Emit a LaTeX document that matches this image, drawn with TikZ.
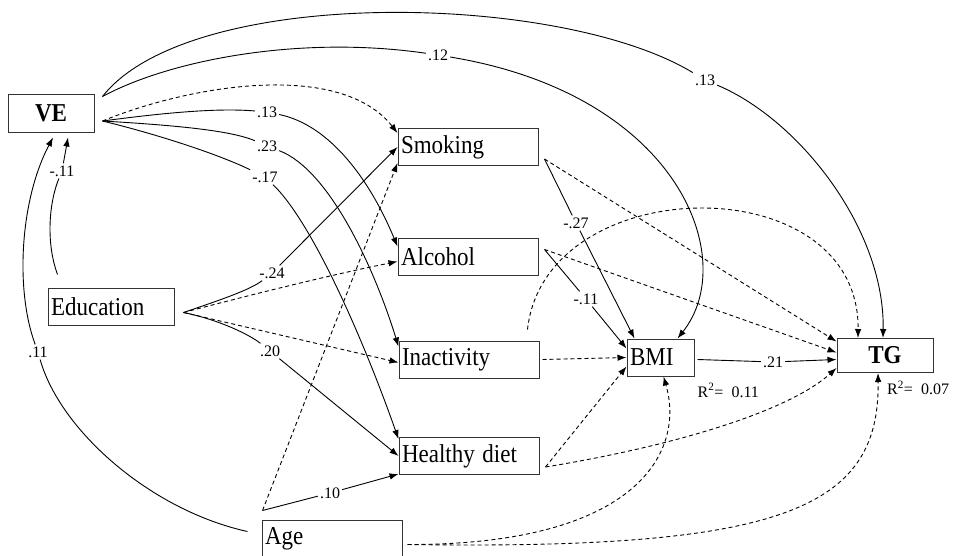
\documentclass[tikz,border=0pt]{standalone}
\usepackage{graphicx}
\usepackage{fontspec}
\setmainfont{Liberation Serif}
\usetikzlibrary{calc,arrows.meta}
\newcommand{\tallbox}[1]{\scalebox{1}[1.12]{#1}}

\begin{document}
\begin{tikzpicture}[x=1pt,y=-1pt,
    var/.style={draw=black!80,line width=1pt,inner sep=3pt,minimum height=37pt,
      text width=#1,align=left,font=\fontsize{23}{26}\selectfont},
    lat/.style={draw=black!80,line width=1pt,inner sep=0pt,minimum height=#1,
      font=\fontsize{23}{26}\selectfont\bfseries},
    coef/.style={inner sep=2pt,font=\fontsize{16}{18}\selectfont},
    arr/.style={line width=0.9pt,-{Latex[length=9pt,width=6.5pt]}},
    dsh/.style={arr,dash pattern=on 4pt off 3pt}]
      \useasboundingbox (0,0) rectangle (961,555);
      % boxes
      \node[lat=38pt,minimum width=86pt] (VE) at (51,113) {\tallbox{VE}};
      \node[var=120pt] (Education) at (111,306.5) {\tallbox{Education}};
      \node[var=134pt] (Smoking) at (468,147) {\tallbox{Smoking}};
      \node[var=134pt] (Alcohol) at (468,256.5) {\tallbox{Alcohol}};
      \node[var=134pt] (Inactivity) at (469,359.5) {\tallbox{Inactivity}};
      \node[var=134pt] (Healthy) at (469,456) {\tallbox{Healthy diet}};
      \node[var=134pt,minimum height=38pt] (Age) at (332,539) {\tallbox{Age}};
      \node[var=61pt] (BMI) at (660.5,357.5) {\tallbox{BMI}};
      \node[lat=34pt,minimum width=96pt] (TG) at (885,355.5) {\tallbox{TG}};
      \node[coef,anchor=west] (r2bmi) at ($(BMI.south east)+(1,14)$) {R\textsuperscript{2}=\ \ 0.11};
      \node[coef,anchor=west] (r2tg) at ($(TG.south)+(0,15)$) {R\textsuperscript{2}=\ \ 0.07};
      % coefficients
      \node[coef] (l13t) at (705,80) {.13};
      \node[coef] (l12) at (438,55) {.12};
      \node[coef] (l13) at (267,112) {.13};
      \node[coef] (l23) at (267,146) {.23};
      \node[coef] (l17) at (265,177) {-.17};
      \node[coef] (lm11) at (62,171) {-.11};
      \node[coef] (l11) at (38,352) {.11};
      \node[coef] (l24) at (272,273) {-.24};
      \node[coef] (l20) at (270,351) {.20};
      \node[coef] (l10) at (330,493) {.10};
      \node[coef] (l27) at (576,223) {-.27};
      \node[coef] (lb11) at (586,299) {-.11};
      \node[coef] (l21) at (773,362) {.21};
      % end points
      \coordinate (vef) at ($(VE.east)+(8,8)$);
      \coordinate (vet) at ($(VE.north east)+(8,3)$);
      \coordinate (edf) at ($(Education.east)+(9,6)$);
      \coordinate (edt) at ($(Education.north west)+(10,-13)$);
      \coordinate (agt) at ($(Age.north west)+(1,-9)$);
      \coordinate (agl) at ($(Age.north west)+(-14,12)$);
      \coordinate (agr) at ($(Age.north east)+(5,25)$);
      \coordinate (smo) at ($(Smoking.east)+(6,12)$);
      \coordinate (alo) at ($(Alcohol.east)+(6,-7)$);
      \coordinate (ino) at ($(Inactivity.north east)+(-12,-11)$);
      \coordinate (hdo) at ($(Healthy.east)+(6,11)$);
      % VE
      \draw[arr] (vet) .. controls (190,-15) and (560,-8) .. (l13t) .. controls (800,120) and (885,230) .. ($(TG.north)+(-2,0)$);
      \draw[arr] (vet) .. controls (170,60) and (300,35) .. (l12) .. controls (680,95) and (740,260) .. ($(BMI.north east)+(-17,0)$);
      \draw[dsh] (vef) .. controls (190,85) and (340,60) .. ($(Smoking.north west)+(0,5)$);
      \draw[arr] (vef) .. controls (170,112) and (220,108) .. (l13) .. controls (330,125) and (370,180) .. ($(Alcohol.north west)+(0,9)$);
      \draw[arr] (vef) .. controls (170,125) and (230,130) .. (l23) .. controls (330,170) and (375,270) .. ($(Inactivity.north west)+(0,6)$);
      \draw[arr] (vef) .. controls (160,135) and (220,155) .. (l17) .. controls (310,220) and (360,330) .. ($(Healthy.north west)+(0,2)$);
      % Education
      \draw[arr] (edt) .. controls (45,240) and (50,200) .. (lm11) -- ($(VE.south)+(17,5)$);
      \draw[arr] (edf) .. controls (220,300) and (250,290) .. (l24) -- (Smoking.west);
      \draw[dsh] (edf) .. controls (250,295) and (330,275) .. ($(Alcohol.west)+(0,5)$);
      \draw[dsh] (edf) -- ($(Inactivity.west)+(0,3)$);
      \draw[arr] (edf) .. controls (220,320) and (250,335) .. (l20) -- (Healthy.west);
      % Age
      \draw[arr] (agl) .. controls (150,510) and (60,430) .. (l11) .. controls (15,290) and (20,200) .. ($(VE.south)+(2,5)$);
      \draw[dsh] (agt) -- ($(Smoking.south west)+(0,-3)$);
      \draw[arr] (agt) -- (l10) -- ($(Healthy.south west)+(0,-1)$);
      \draw[dsh] (agr) .. controls (640,545) and (685,450) .. ($(BMI.south)+(3,0)$);
      \draw[dsh] (agr) .. controls (780,550) and (880,510) .. ($(TG.south)+(-7,0)$);
      % health behaviours
      \draw[arr] (smo) -- (l27) -- ($(BMI.north west)+(8,0)$);
      \draw[dsh] (smo) -- ($(TG.west)+(0,-14)$);
      \draw[arr] (alo) -- (lb11) -- ($(BMI.west)+(0,-9)$);
      \draw[dsh] (alo) -- ($(TG.west)+(0,-3)$);
      \draw[dsh] ($(Inactivity.east)+(3,0)$) -- (BMI.west);
      \draw[dsh] (ino) .. controls (545,170) and (860,165) .. ($(TG.north)+(-27,0)$);
      \draw[dsh] (hdo) -- ($(BMI.west)+(0,9)$);
      \draw[dsh] (hdo) .. controls (680,445) and (790,410) .. ($(TG.south west)+(0,-5)$);
      % BMI
      \draw[arr] ($(BMI.east)+(3,2)$) -- (l21) -- ($(TG.west)+(0,4)$);
    \end{tikzpicture}
\end{document}
